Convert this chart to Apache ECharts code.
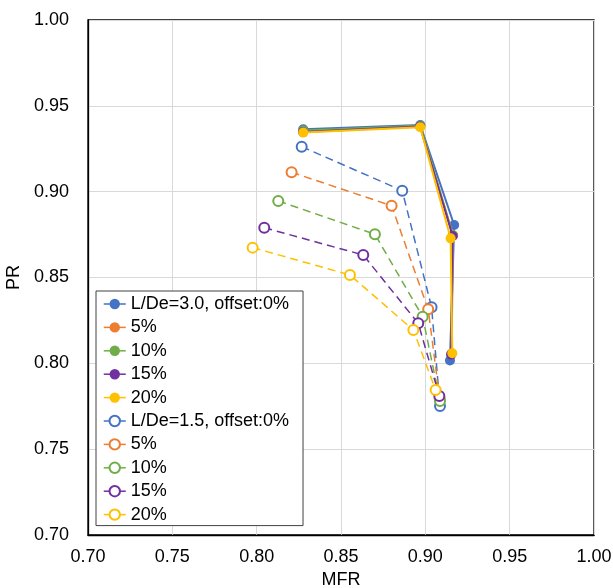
<!DOCTYPE html>
<html>
<head>
<meta charset="utf-8">
<style>html,body{margin:0;padding:0;background:#fff}#c{width:613px;height:588px}</style>
<script src="https://cdn.jsdelivr.net/npm/echarts@6/dist/echarts.min.js"></script>
</head>
<body>
<div id="c"></div>
<script>
// Series names
var seriesNames = ['L/De=3.0, offset:0%', '5%', '10%', '15%', '20%',
                   'L/De=1.5, offset:0%', '5%', '10%', '15%', '20%'];
var colors = ['#4472C4', '#ED7D31', '#70AD47', '#7030A0', '#FFC000'];
// L/De=3.0 (filled markers, solid lines) : [MFR, PR]
var s30_0  = [[0.8276, 0.9363], [0.8970, 0.9388], [0.9171, 0.8806], [0.9146, 0.8016]];
var s30_5  = [[0.8276, 0.9352], [0.8970, 0.9382], [0.9165, 0.8745], [0.9155, 0.8057]];
var s30_10 = [[0.8277, 0.9356], [0.8971, 0.9384], [0.9163, 0.8748], [0.9154, 0.8053]];
var s30_15 = [[0.8275, 0.9348], [0.8969, 0.9380], [0.9162, 0.8742], [0.9153, 0.8050]];
var s30_20 = [[0.8276, 0.9344], [0.8970, 0.9375], [0.9150, 0.8728], [0.9160, 0.8059]];
// L/De=1.5 (hollow markers, dashed lines)
var s15_0  = [[0.8267, 0.9262], [0.8863, 0.9006], [0.9037, 0.8327], [0.9087, 0.7752]];
var s15_5  = [[0.8207, 0.9113], [0.8800, 0.8918], [0.9017, 0.8315], [0.9085, 0.7795]];
var s15_10 = [[0.8128, 0.8946], [0.8701, 0.8752], [0.8984, 0.8272], [0.9087, 0.7780]];
var s15_15 = [[0.8045, 0.8790], [0.8632, 0.8631], [0.8958, 0.8233], [0.9083, 0.7810]];
var s15_20 = [[0.7976, 0.8674], [0.8553, 0.8515], [0.8929, 0.8194], [0.9061, 0.7845]];
var xTicks = [0.70, 0.75, 0.80, 0.85, 0.90, 0.95, 1.00];
var yTicks = [0.70, 0.75, 0.80, 0.85, 0.90, 0.95, 1.00];

var solidData = [s30_0, s30_5, s30_10, s30_15, s30_20];
var dashData = [s15_0, s15_5, s15_10, s15_15, s15_20];
var FONT = 'Liberation Sans, Arial, sans-serif';

var series = [];
var legendData = [];
solidData.forEach(function (d, i) {
  series.push({
    name: 's' + i, type: 'line', data: d, symbol: 'circle', symbolSize: 10,
    lineStyle: {color: colors[i], width: 2}, itemStyle: {color: colors[i]},
    z: 2 + i
  });
  legendData.push({name: 's' + i, lineStyle: {type: 'solid', width: 1.5}});
});
dashData.forEach(function (d, i) {
  series.push({
    name: 'd' + i, type: 'line', data: d, symbol: 'emptyCircle', symbolSize: 10,
    lineStyle: {color: colors[i], width: 1.5, type: [8, 5]},
    itemStyle: {color: colors[i], borderWidth: 1.5, borderColor: colors[i]},
    z: 10 + i
  });
  legendData.push({name: 'd' + i, lineStyle: {type: 'solid', width: 1.5}});
});

var chart = echarts.init(document.getElementById('c'), null, {renderer: 'canvas'});
chart.setOption({
  animation: false,
  backgroundColor: '#fff',
  grid: {left: 88, right: 19, top: 20, bottom: 53, show: true, borderColor: '#000', borderWidth: 1.3,
         containLabel: false, outerBoundsMode: 'none'},
  xAxis: {
    type: 'value', min: xTicks[0], max: xTicks[xTicks.length - 1], interval: 0.05,
    name: 'MFR', nameLocation: 'middle', nameGap: 35,
    nameTextStyle: {fontFamily: FONT, fontSize: 18, color: '#000'},
    axisLine: {show: true, lineStyle: {color: '#000', width: 1.3}}, axisTick: {show: false},
    axisLabel: {fontFamily: FONT, fontSize: 18, color: '#000', margin: 13,
      formatter: function (v) { return v.toFixed(2); }},
    splitLine: {show: true, lineStyle: {color: '#d9d9d9', width: 1}}
  },
  yAxis: {
    type: 'value', min: yTicks[0], max: yTicks[yTicks.length - 1], interval: 0.05,
    name: 'PR', nameLocation: 'middle', nameGap: 56, nameRotate: 90,
    nameTextStyle: {fontFamily: FONT, fontSize: 18, color: '#000'},
    axisLine: {show: true, lineStyle: {color: '#000', width: 1.3}}, axisTick: {show: false},
    axisLabel: {fontFamily: FONT, fontSize: 18, color: '#000', margin: 19,
      formatter: function (v) { return v.toFixed(2); }},
    splitLine: {show: true, lineStyle: {color: '#d9d9d9', width: 1}}
  },
  legend: {
    orient: 'vertical', left: 96, top: 291, data: legendData,
    itemWidth: 22, itemHeight: 13, itemGap: 5.4,
    padding: [4, 14, 2, 7],
    borderColor: '#404040', borderWidth: 1, backgroundColor: '#fff',
    textStyle: {fontFamily: FONT, fontSize: 18, color: '#000', lineHeight: 18},
    formatter: function (n) {
      var idx = n.charAt(0) === 's' ? +n.slice(1) : 5 + (+n.slice(1));
      return seriesNames[idx];
    }
  },
  series: series
});
</script>
</body>
</html>
